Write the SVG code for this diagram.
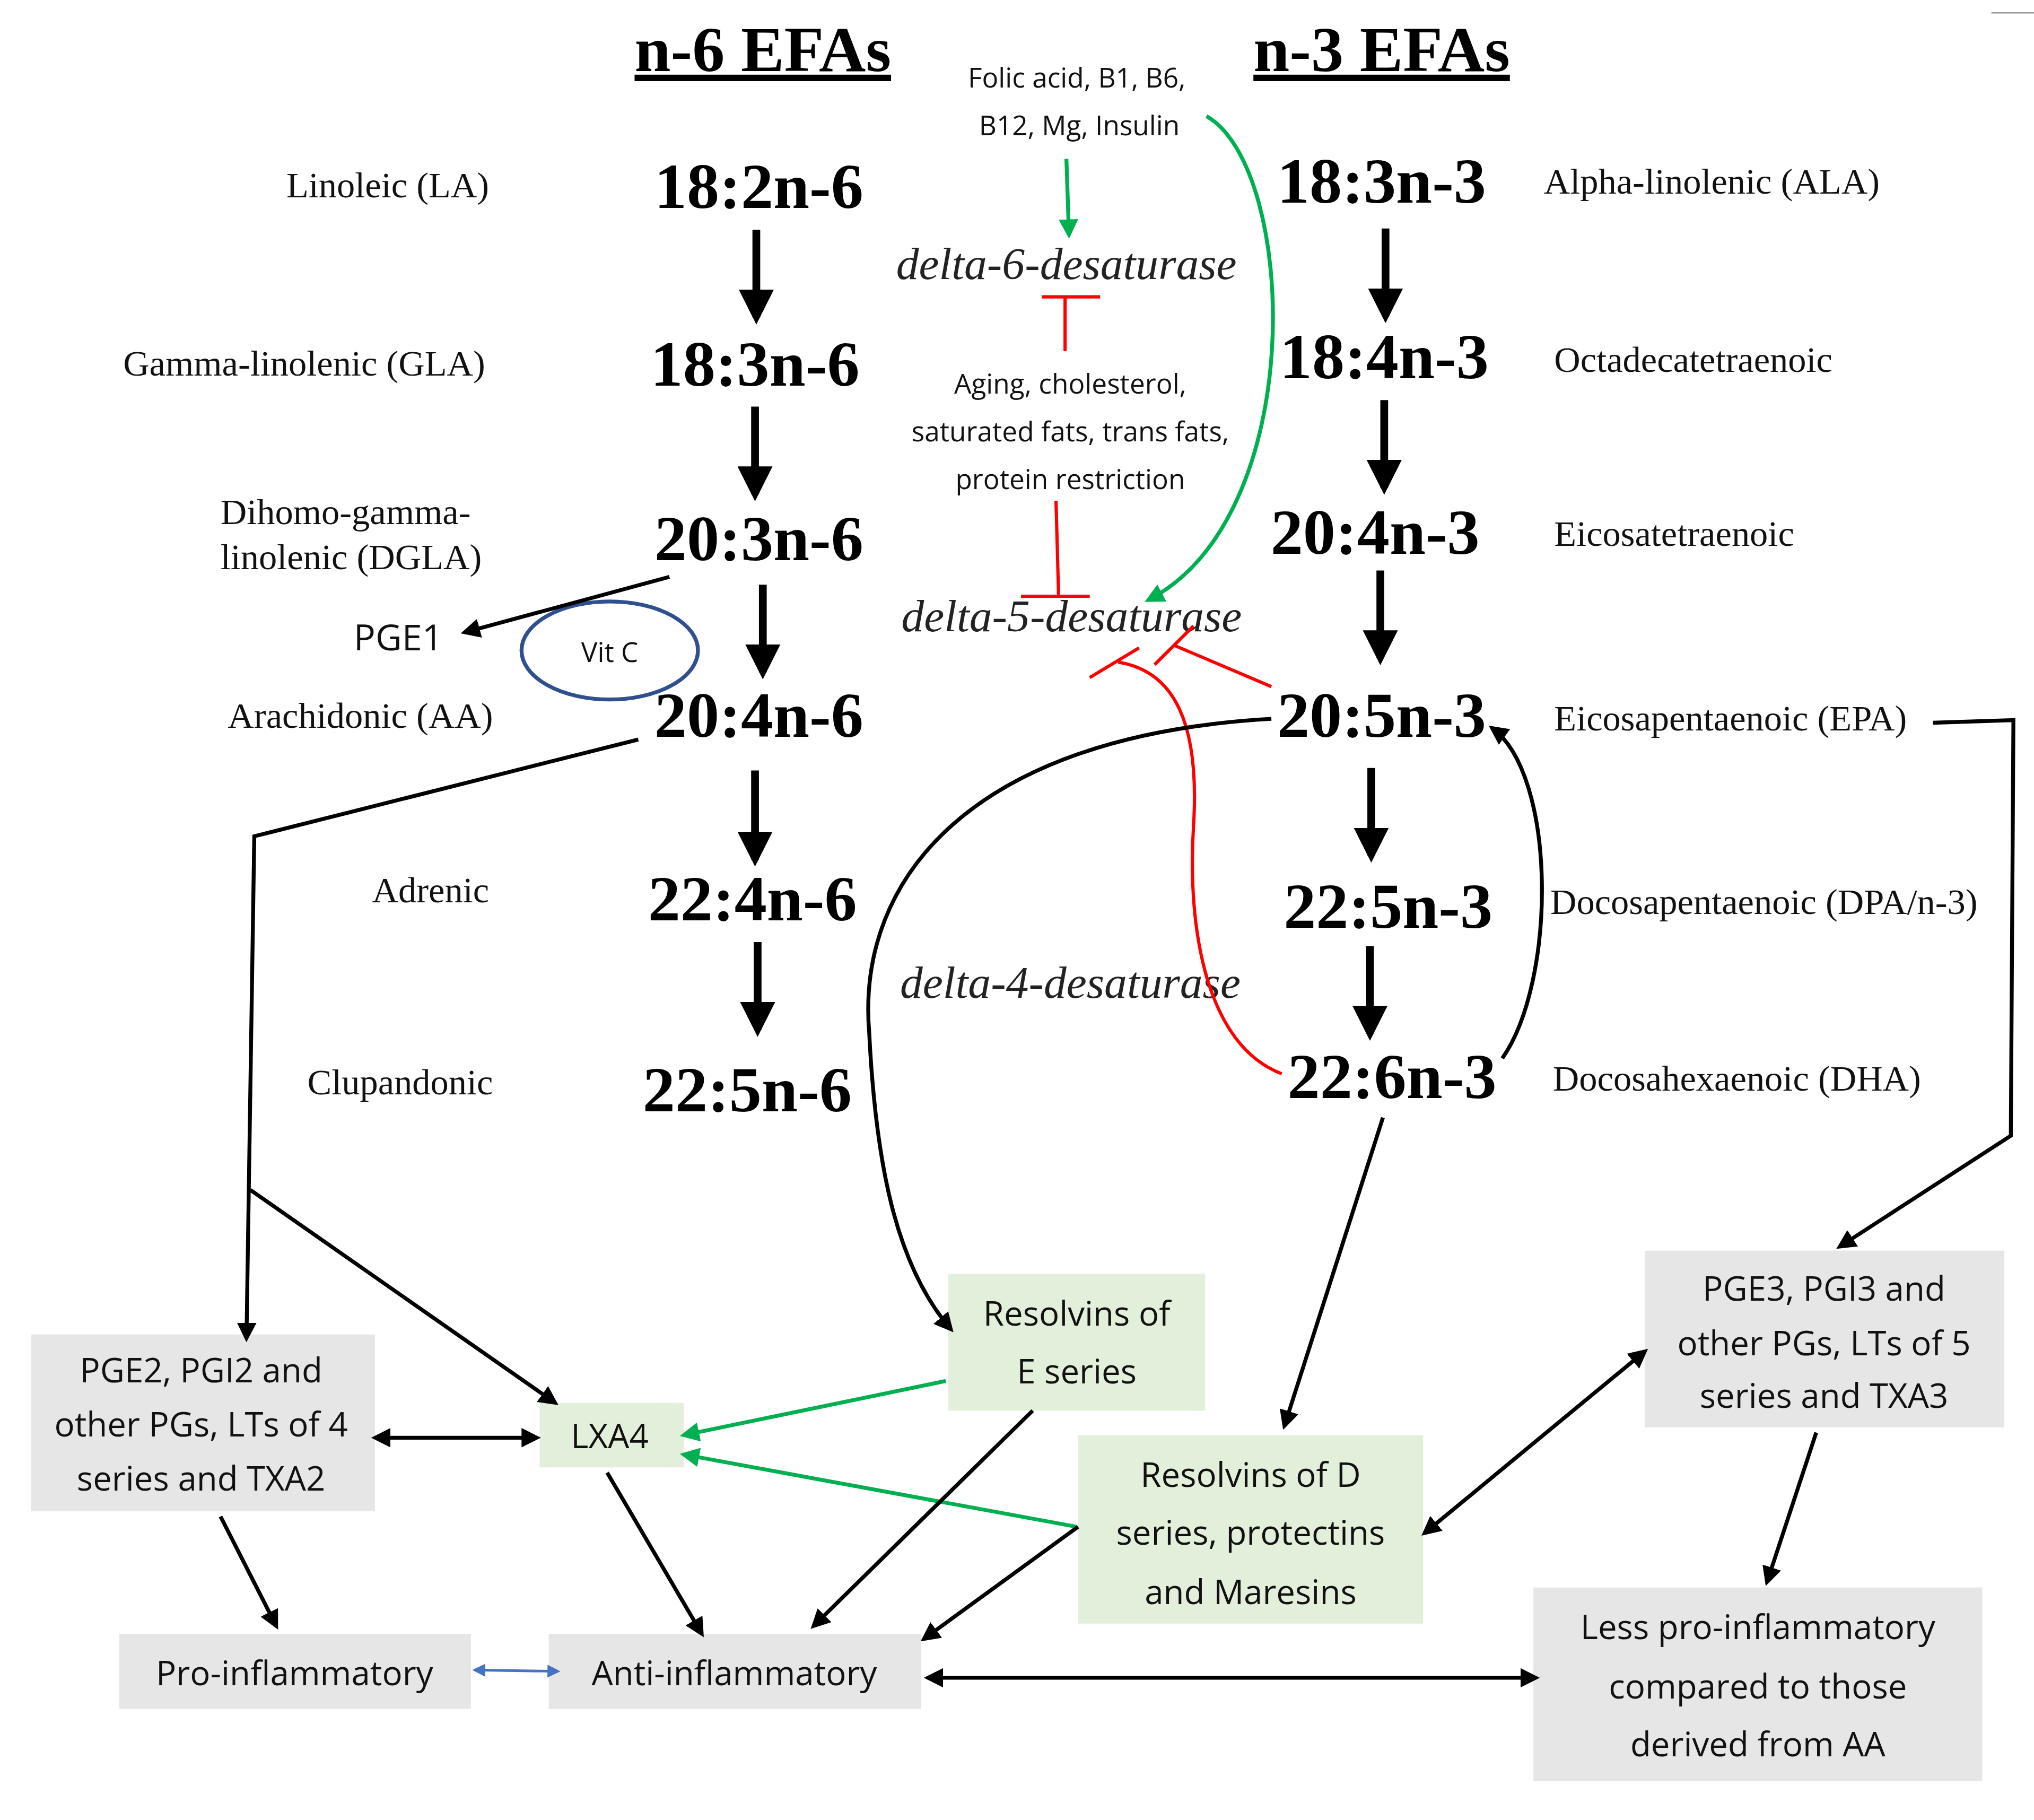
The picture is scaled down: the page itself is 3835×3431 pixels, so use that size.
<svg xmlns="http://www.w3.org/2000/svg" width="3835" height="3431" viewBox="0 0 3835 3431">
<style>
.t{font-family:"Liberation Serif",serif;font-size:28px;fill:#111}
.f{font-family:"Liberation Serif",serif;font-size:50px;font-weight:bold;text-anchor:middle;fill:#000}
.h{font-family:"Liberation Serif",serif;font-size:50px;font-weight:bold;text-anchor:middle;text-decoration:underline}
.s{font-family:"Open Sans","Liberation Sans",sans-serif;font-size:21px;text-anchor:middle;fill:#111}
.b{font-family:"Open Sans","Liberation Sans",sans-serif;font-size:26px;text-anchor:middle;fill:#111}
.d{font-family:"Liberation Serif",serif;font-size:35px;font-style:italic;text-anchor:middle;fill:#222}
.k{stroke:#000;stroke-width:3;fill:none}
.K{stroke:#000;stroke-width:6;fill:none;marker-end:url(#a)}
.g{stroke:#00b050;stroke-width:3;fill:none}
.r{stroke:#f00;stroke-width:2.5;fill:none}
.gr{fill:#e6e6e6}.gn{fill:#e2efda}
</style>
<defs>
<marker id="a" viewBox="0 0 10 10" refX="8" refY="5" markerWidth="4.5" markerHeight="4.5" orient="auto-start-reverse"><path d="M0,0L10,5L0,10z" fill="#000"/></marker>
<marker id="ak" viewBox="0 0 10 10" refX="8" refY="5" markerWidth="5" markerHeight="5" orient="auto-start-reverse"><path d="M0,0L10,5L0,10z" fill="#000"/></marker>
<marker id="ag" viewBox="0 0 10 10" refX="8" refY="5" markerWidth="5" markerHeight="5" orient="auto-start-reverse"><path d="M0,0L10,5L0,10z" fill="#00b050"/></marker>
<marker id="ab" viewBox="0 0 10 10" refX="8" refY="5" markerWidth="5" markerHeight="5" orient="auto-start-reverse"><path d="M0,0L10,5L0,10z" fill="#4472c4"/></marker>
</defs>
<rect width="3835" height="3431" fill="#fff"/>
<g transform="scale(2.446,2.433)">
<line x1="1535" y1="10" x2="1568" y2="10" stroke="#999" stroke-width="1"/>
<g id="titles"><text class="h" x="588" y="55">n-6 EFAs</text><text class="h" x="1065" y="55">n-3 EFAs</text></g>
<g id="n6labels">
<text class="t" x="377" y="153" text-anchor="end">Linoleic (LA)</text>
<text class="t" x="374" y="291" text-anchor="end">Gamma-linolenic (GLA)</text>
<text class="t" x="170" y="406">Dihomo-gamma-</text>
<text class="t" x="170" y="441">linolenic (DGLA)</text>
<text class="t" x="380" y="564" text-anchor="end">Arachidonic (AA)</text>
<text class="t" x="377" y="699" text-anchor="end">Adrenic</text>
<text class="t" x="380" y="848" text-anchor="end">Clupandonic</text>
</g>
<g id="n6">
<text class="f" x="585" y="161">18:2n-6</text><text class="f" x="582" y="299">18:3n-6</text>
<text class="f" x="585" y="434">20:3n-6</text><text class="f" x="585" y="571">20:4n-6</text>
<text class="f" x="580" y="713">22:4n-6</text><text class="f" x="576" y="861">22:5n-6</text>
</g>
<g id="n3">
<text class="f" x="1065" y="157">18:3n-3</text><text class="f" x="1067" y="293">18:4n-3</text>
<text class="f" x="1060" y="429">20:4n-3</text><text class="f" x="1065" y="571">20:5n-3</text>
<text class="f" x="1070" y="719">22:5n-3</text><text class="f" x="1073" y="851">22:6n-3</text>
</g>
<g id="n3labels">
<text class="t" x="1190" y="150">Alpha-linolenic (ALA)</text>
<text class="t" x="1198" y="288">Octadecatetraenoic</text>
<text class="t" x="1198" y="423">Eicosatetraenoic</text>
<text class="t" x="1198" y="566">Eicosapentaenoic (EPA)</text>
<text class="t" x="1195" y="708">Docosapentaenoic (DPA/n-3)</text>
<text class="t" x="1197" y="845">Docosahexaenoic (DHA)</text>
</g>
<g id="middle">
<text class="s" x="830" y="68">Folic acid, B1, B6,</text>
<text class="s" x="832" y="105">B12, Mg, Insulin</text>
<text class="d" x="822" y="216">delta-6-desaturase</text>
<text class="s" x="825" y="305">Aging, cholesterol,</text>
<text class="s" x="825" y="342">saturated fats, trans fats,</text>
<text class="s" x="825" y="379">protein restriction</text>
<text class="d" x="826" y="489">delta-5-desaturase</text>
<text class="d" x="825" y="773">delta-4-desaturase</text>
</g>
<g id="pge1"><text class="b" x="307" y="504" style="font-size:28px">PGE1</text>
<ellipse cx="470" cy="504" rx="68" ry="38" fill="none" stroke="#2f4f8f" stroke-width="3"/>
<text class="s" x="470" y="513">Vit C</text></g>
<g id="boxes">
<g id="pge2"><rect class="gr" x="24" y="1034" width="265" height="137"/><text class="b" x="155" y="1071">PGE2, PGI2 and</text><text class="b" x="155" y="1113">other PGs, LTs of 4</text><text class="b" x="155" y="1155">series and TXA2</text></g>
<g id="lxa4"><rect class="gn" x="416" y="1087" width="111" height="50"/><text class="b" x="470" y="1122">LXA4</text></g>
<g id="resE"><rect class="gn" x="731" y="987" width="198" height="106"/><text class="b" x="830" y="1027">Resolvins of</text><text class="b" x="830" y="1072">E series</text></g>
<g id="pge3"><rect class="gr" x="1268" y="969" width="277" height="137"/><text class="b" x="1406" y="1008">PGE3, PGI3 and</text><text class="b" x="1406" y="1050">other PGs, LTs of 5</text><text class="b" x="1406" y="1091">series and TXA3</text></g>
<g id="resD"><rect class="gn" x="831" y="1112" width="266" height="146"/><text class="b" x="964" y="1152">Resolvins of D</text><text class="b" x="964" y="1197">series, protectins</text><text class="b" x="964" y="1243">and Maresins</text></g>
<g id="pro"><rect class="gr" x="92" y="1266" width="271" height="58"/><text class="b" x="227" y="1306">Pro-inflammatory</text></g>
<g id="anti"><rect class="gr" x="423" y="1266" width="287" height="58"/><text class="b" x="566" y="1306">Anti-inflammatory</text></g>
<g id="less"><rect class="gr" x="1182" y="1230" width="346" height="150"/><text class="b" x="1355" y="1270">Less pro-inflammatory</text><text class="b" x="1355" y="1316">compared to those</text><text class="b" x="1355" y="1361">derived from AA</text></g>
</g>
<g id="connectors">
<line class="K" x1="583" y1="178" x2="583" y2="246"/>
<line class="K" x1="582" y1="315" x2="582" y2="383"/>
<line class="K" x1="588" y1="453" x2="588" y2="521"/>
<line class="K" x1="582" y1="597" x2="582" y2="666"/>
<line class="K" x1="584" y1="730" x2="584" y2="798"/>
<line class="K" x1="1068" y1="177" x2="1068" y2="245"/>
<line class="K" x1="1067" y1="310" x2="1067" y2="378"/>
<line class="K" x1="1064" y1="442" x2="1064" y2="510"/>
<line class="K" x1="1057" y1="595" x2="1057" y2="663"/>
<line class="K" x1="1056" y1="733" x2="1056" y2="801"/>
<line class="g" x1="822" y1="123" x2="824" y2="182" marker-end="url(#ag)"/>
<path class="g" d="M930,90 C1000,130 1010,400 885,465" marker-end="url(#ag)"/>
<path class="r" d="M821,272 V230 M803,230 H848"/>
<path class="r" d="M814,388 L816,462 M787,462 H840"/>
<path class="r" d="M980,532 L905,500 M890,515 L920,485"/>
<path class="r" d="M988,832 C930,810 915,720 920,640 C925,560 905,520 862,513 M840,525 L878,502"/>
<path class="k" d="M980,557 C750,570 660,680 670,800 C675,900 690,980 733,1030" marker-end="url(#ak)"/>
<path class="k" d="M1158,820 C1200,760 1200,600 1150,564" marker-end="url(#ak)"/>
<path class="k" d="M1490,560 L1552,558 L1550,880 L1418,966" marker-end="url(#ak)"/>
<line class="k" x1="1066" y1="866" x2="990" y2="1105" marker-end="url(#ak)"/>
<path class="k" d="M492,573 L196,648 L190,1037" marker-end="url(#ak)"/>
<line class="k" x1="193" y1="922" x2="428" y2="1087" marker-end="url(#ak)"/>
<line class="k" x1="516" y1="447" x2="358" y2="490" marker-end="url(#ak)"/>
<line class="k" x1="289" y1="1114" x2="414" y2="1114" marker-start="url(#ak)" marker-end="url(#ak)"/>
<line class="g" x1="729" y1="1070" x2="527" y2="1112" marker-end="url(#ag)"/>
<line class="g" x1="830" y1="1183" x2="527" y2="1127" marker-end="url(#ag)"/>
<line class="k" x1="468" y1="1141" x2="541" y2="1266" marker-end="url(#ak)"/>
<line class="k" x1="796" y1="1093" x2="627" y2="1260" marker-end="url(#ak)"/>
<line class="k" x1="831" y1="1183" x2="712" y2="1270" marker-end="url(#ak)"/>
<line class="k" x1="170" y1="1175" x2="213" y2="1260" marker-end="url(#ak)"/>
<line stroke="#4472c4" stroke-width="2" x1="366" y1="1294" x2="430" y2="1295" marker-start="url(#ab)" marker-end="url(#ab)"/>
<line class="k" x1="715" y1="1300" x2="1184" y2="1300" marker-start="url(#ak)" marker-end="url(#ak)"/>
<line class="k" x1="1098" y1="1188" x2="1268" y2="1047" marker-start="url(#ak)" marker-end="url(#ak)"/>
<line class="k" x1="1400" y1="1110" x2="1362" y2="1226" marker-end="url(#ak)"/>
</g>
</g>
</svg>
